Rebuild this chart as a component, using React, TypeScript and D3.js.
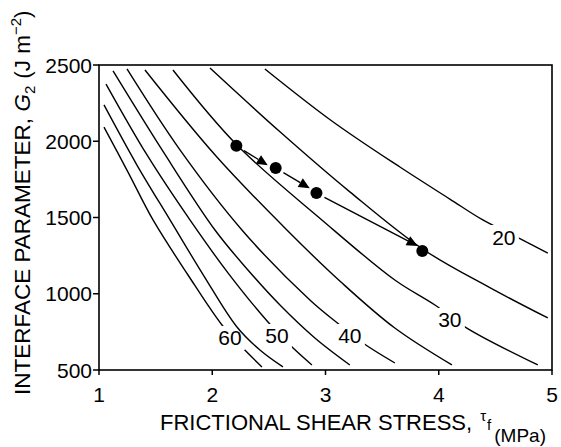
import React from "react";
import * as d3 from "d3";

// Axis ticks
const xTicks = [1, 2, 3, 4, 5];
const yTicks = [500, 1000, 1500, 2000, 2500];

// Contour curves: [tau_f (MPa), G2 (J m^-2)]
const curve20 = [[2.465, 2474], [3.056, 2133], [3.657, 1831], [4.098, 1621], [4.389, 1484], [4.742, 1352], [4.963, 1267]];
const curve25 = [[1.98, 2480], [2.598, 2062], [3.215, 1668], [3.86, 1292], [4.451, 1040], [4.963, 841]];
const curve30 = [[1.653, 2467], [2.218, 1975], [2.968, 1484], [3.612, 1090], [3.966, 926], [4.248, 775], [4.875, 533]];
const curve35 = [[1.406, 2467], [2.033, 1903], [2.659, 1418], [3.136, 1077], [3.612, 775], [4.116, 533]];
const curve40 = [[1.247, 2474], [1.715, 1943], [2.262, 1418], [2.862, 959], [3.127, 795], [3.33, 677], [3.613, 546]];
const curve45 = [[1.124, 2461], [1.574, 1923], [2.024, 1418], [2.315, 1156], [2.598, 926], [2.906, 710], [3.215, 533]];
const curve50 = [[1.062, 2375], [1.424, 1910], [1.803, 1484], [2.147, 1129], [2.492, 815], [2.686, 664], [2.88, 533]];
const curve55 = [[1.044, 2238], [1.335, 1844], [1.627, 1484], [1.927, 1116], [2.218, 782], [2.421, 631], [2.624, 520]];
const curve60 = [[1.044, 2093], [1.256, 1798], [1.477, 1484], [1.786, 1123], [2.086, 795], [2.262, 651], [2.439, 520]];

const curveValues = [20, 25, 30, 35, 40, 45, 50, 55, 60];
const curves = [curve20, curve25, curve30, curve35, curve40, curve45, curve50, curve55, curve60];

// Curve labels
const labelValues = [20, 30, 40, 50, 60];
const labelTau = [4.575, 4.098, 3.215, 2.571, 2.156];
const labelG = [1372, 828, 723, 723, 710];

// Experimental points (circles) and arrow heads (triangles)
const pointTau = [2.213, 2.56, 2.92, 3.855];
const pointG = [1970, 1824, 1660, 1280];
const arrowTau = [2.445, 2.815, 3.767];
const arrowG = [1863, 1712, 1332];

const FONT = "'Liberation Sans', Arial, sans-serif";

export default function App() {
  const x = d3.scaleLinear().domain([1, 5]).range([99, 552]);
  const y = d3.scaleLinear().domain([500, 2500]).range([370, 65]);
  const line = d3
    .line<number[]>()
    .x((d) => x(d[0]))
    .y((d) => y(d[1]))
    .curve(d3.curveCatmullRom.alpha(0.5));

  const gapW = 30;
  const gapH = 24;

  return (
    <svg
      width={561}
      height={447}
      viewBox="0 0 561 447"
      style={{ position: "absolute", left: 0, top: 0, background: "#fff" }}
      fontFamily={FONT}
    >
      <rect x={0} y={0} width={561} height={447} fill="#fff" />
      <defs>
        {curveValues.map((v) => {
          const li = labelValues.indexOf(v);
          return (
            <mask id={`m${v}`} key={v} maskUnits="userSpaceOnUse" x={0} y={0} width={561} height={447}>
              <rect x={0} y={0} width={561} height={447} fill="#fff" />
              {li >= 0 && (
                <rect
                  x={x(labelTau[li]) - gapW / 2}
                  y={y(labelG[li]) - gapH / 2}
                  width={gapW}
                  height={gapH}
                  fill="#000"
                />
              )}
            </mask>
          );
        })}
      </defs>

      {/* frame */}
      <rect x={x(1)} y={y(2500)} width={x(5) - x(1)} height={y(500) - y(2500)} fill="none" stroke="#000" strokeWidth={1.6} />

      {/* y ticks */}
      {yTicks.map((t) => (
        <g key={`y${t}`}>
          <line x1={x(1) - 6} x2={x(1)} y1={y(t)} y2={y(t)} stroke="#000" strokeWidth={1.5} />
          <text x={x(1) - 7} y={y(t)} textAnchor="end" dominantBaseline="central" fontSize={21}>
            {t}
          </text>
        </g>
      ))}
      {/* x ticks */}
      {xTicks.map((t) => (
        <g key={`x${t}`}>
          <line x1={x(t)} x2={x(t)} y1={y(500)} y2={y(500) + 5} stroke="#000" strokeWidth={1.5} />
          <text x={x(t)} y={y(500) + 32} textAnchor="middle" fontSize={21}>
            {t}
          </text>
        </g>
      ))}

      {/* contour curves */}
      {curves.map((c, i) => (
        <path
          key={curveValues[i]}
          d={line(c) || ""}
          fill="none"
          stroke="#000"
          strokeWidth={1.4}
          mask={`url(#m${curveValues[i]})`}
        />
      ))}

      {/* curve labels */}
      {labelValues.map((v, i) => (
        <text
          key={`l${v}`}
          x={x(labelTau[i])}
          y={y(labelG[i])}
          textAnchor="middle"
          dominantBaseline="central"
          fontSize={21}
        >
          {v}
        </text>
      ))}

      {/* arrows between points */}
      {arrowTau.map((_, i) => {
        const x0 = x(pointTau[i]);
        const y0 = y(pointG[i]);
        const xt = x(arrowTau[i]);
        const yt = y(arrowG[i]);
        const dx = xt - x0;
        const dy = yt - y0;
        const len = Math.hypot(dx, dy);
        const ux = dx / len;
        const uy = dy / len;
        const sx = x0 + ux * 9;
        const sy = y0 + uy * 9;
        const tipX = xt + ux * 6;
        const tipY = yt + uy * 6;
        const bx = xt - ux * 5;
        const by = yt - uy * 5;
        const px = -uy * 5;
        const py = ux * 5;
        return (
          <g key={`a${i}`}>
            <line x1={sx} y1={sy} x2={bx} y2={by} stroke="#000" strokeWidth={1.4} />
            <path d={`M${tipX},${tipY}L${bx + px},${by + py}L${bx - px},${by - py}Z`} fill="#000" />
          </g>
        );
      })}
      {pointTau.map((t, i) => (
        <circle key={`p${i}`} cx={x(t)} cy={y(pointG[i])} r={6} fill="#000" />
      ))}

      {/* axis titles */}
      <text x={160} y={430} fontSize={22} textAnchor="start">
        FRICTIONAL SHEAR STRESS,
        <tspan dx={8} dy={-9} fontSize={15}>τ</tspan>
        <tspan dx={1} dy={9} fontSize={15}>f</tspan>
        <tspan dx={3} dy={12} fontSize={19}>(MPa)</tspan>
      </text>
      <text transform="translate(30,395) rotate(-90)" fontSize={22.5} textAnchor="start">
        INTERFACE PARAMETER,{" "}
        <tspan fontStyle="italic">G</tspan>
        <tspan dy={5} fontSize={15}>2</tspan>
        <tspan dy={-5} dx={7}>(J m</tspan>
        <tspan dy={-9} fontSize={15}>−2</tspan>
        <tspan dy={9}>)</tspan>
      </text>
    </svg>
  );
}
